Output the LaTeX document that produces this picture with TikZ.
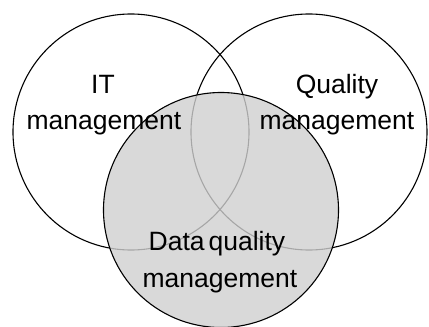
\documentclass[tikz,border=0pt]{standalone}
\usepackage{fontspec}
\setmainfont{Liberation Sans}
\begin{document}
\begin{tikzpicture}[x=1pt,y=-1pt,
  ring/.style={draw=black,line width=1.1pt},
  lbl/.style={anchor=base,inner sep=0pt,font=\fontsize{26.5}{30}\selectfont}]
\useasboundingbox (0,0) rectangle (429,327);
\fill[white] (0,0) rectangle (429,327);
\draw[ring] (131,132) circle[radius=118];
\draw[ring] (309,132) circle[radius=118];
\fill[fill={rgb,255:red,208;green,208;blue,208},fill opacity=0.8] (221,210) circle[radius=117.5];
\draw[ring] (221,210) circle[radius=117.5];
\node[lbl] (it1) at (103,93) {IT};
\node[lbl] (it2) at (104,129) {management};
\node[lbl] (q1) at (337,93) {Quality};
\node[lbl] (q2) at (337,129) {management};
\node[lbl] (d1) at (217,250) {Data\hspace{4pt}quality};
\node[lbl] (d2) at (220,287) {management};
\end{tikzpicture}
\end{document}
